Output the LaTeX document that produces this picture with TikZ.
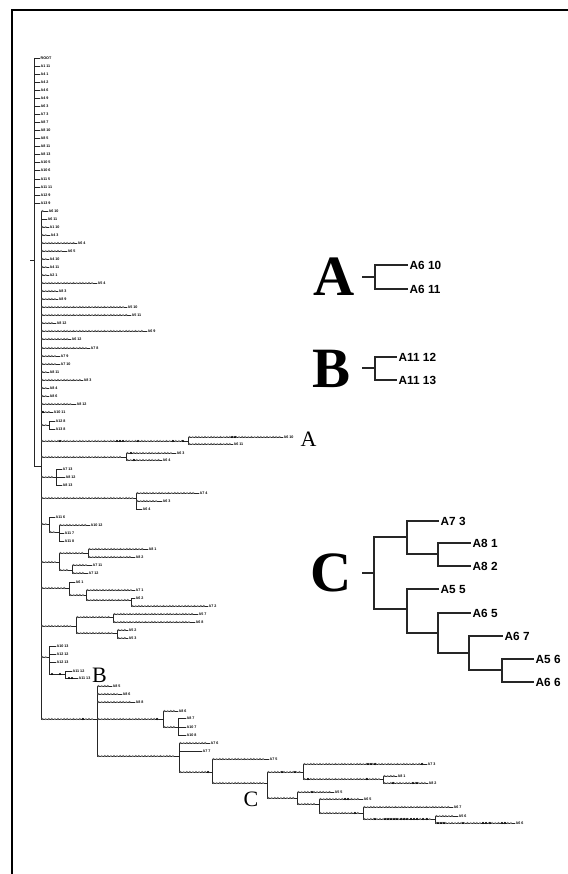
\documentclass[tikz,border=0pt]{standalone}
\usepackage{fontspec}
\setmainfont{Liberation Sans}
\newfontfamily\serifb{Liberation Serif}
\usetikzlibrary{decorations.markings}
\tikzset{
 tr/.style={line width=0.45pt, black!85},
 lf/.style={anchor=west, inner sep=0.4pt, font=\fontsize{3.7}{3.7}\selectfont\bfseries},
 ch/.style={postaction={decorate, decoration={markings, mark=between positions 1.5pt and -3pt step 3.1pt with {\draw[line width=0.28pt, black!70, fill=white] (0,0) circle (0.9pt);}}}},
 ins/.style={line width=1.1pt, black!85, line cap=rect},
 inl/.style={anchor=west, inner xsep=2.5pt, inner ysep=0pt, font=\fontsize{11.8}{12}\selectfont\bfseries},
 big/.style={anchor=base, inner sep=0pt, font=\fontsize{57}{57}\selectfont\serifb\bfseries},
 mid/.style={anchor=base, inner sep=0pt, font=\fontsize{22}{22}\selectfont\serifb},
 frame/.style={line width=2pt, black},
}
\newcommand\Lf[6]{\node[lf] (#1) at (#3,#4) {#5}; \draw[tr,#6] (#2 |- #1.west) -- (#1.west);}
\newcommand\In[7]{\coordinate (#1) at (#3,#6); \draw[tr] (#3,#4) -- (#3,#5); \draw[tr,#7] (#2 |- #1) -- (#1);}
\newcommand\LfI[5]{\node[inl] (#1) at (#3,#4) {#5}; \draw[ins] (#2 |- #1.west) -- (#1.west);}
\newcommand\InI[6]{\coordinate (#1) at (#3,#6); \draw[ins] (#3,#4) -- (#3,#5); \draw[ins] (#2 |- #1) -- (#1);}
\newcommand\fd[2]{\fill[black] (#1,#2) circle (1.05pt);}
\begin{document}
\begin{tikzpicture}[x=1pt,y=-1pt]
\useasboundingbox (0,0) rectangle (567,874);
\fill[white] (0,0) rectangle (567,874);
% frame
\draw[frame] (12,880) -- (12,10) -- (575,10);
% ---------- outer clade
\coordinate (P0) at (30,260);
\In{R0}{P0}{34}{58}{466}{260}{}
\foreach \lab [count=\i] in {ROOT,A1 11,A4 1,A4 2,A4 6,A4 9,A6 3,A7 3,A8 7,A8 10,A8 5,A8 11,A8 13,A10 5,A10 6,A11 5,A11 11,A12 9,A13 9}{
  \pgfmathsetmacro\yy{58+8.05*(\i-1)}
  \Lf{o\i}{R0}{40}{\yy}{\lab}{}
}
% ---------- inner clade
\In{I}{R0}{41}{211}{719}{466}{}
\Lf{i01}{I}{48}{211}{A6 10}{ch}
\Lf{i02}{I}{47}{219}{A6 11}{}
\Lf{i03}{I}{49}{227}{A1 10}{ch}
\Lf{i04}{I}{50}{235}{A4 3}{ch}
\Lf{i05}{I}{77}{243}{A6 4}{ch}
\Lf{i06}{I}{67}{251}{A6 5}{ch}
\Lf{i07}{I}{49}{259}{A4 10}{ch}
\Lf{i08}{I}{49}{267}{A4 11}{ch}
\Lf{i09}{I}{49}{275}{A2 1}{ch}
\Lf{i10}{I}{97}{283}{A5 4}{ch}
\Lf{i11}{I}{58}{291}{A8 3}{ch}
\Lf{i12}{I}{58}{299}{A8 9}{ch}
\Lf{i13}{I}{127}{307}{A5 10}{ch}
\Lf{i14}{I}{131}{315}{A5 11}{ch}
\Lf{i15}{I}{56}{323}{A8 12}{ch}
\Lf{i16}{I}{147}{331}{A6 9}{ch}
\Lf{i17}{I}{71}{339}{A6 12}{ch}
\Lf{i18}{I}{90}{348}{A7 8}{ch}
\Lf{i19}{I}{60}{356}{A7 9}{ch}
\Lf{i20}{I}{60}{364}{A7 10}{ch}
\Lf{i21}{I}{49}{372}{A8 11}{ch}
\Lf{i22}{I}{83}{380}{A8 3}{ch}
\Lf{i23}{I}{49}{388}{A8 4}{ch}
\Lf{i24}{I}{49}{396}{A8 6}{ch}
\Lf{i25}{I}{76}{404}{A8 12}{ch}
\Lf{i26}{I}{53}{412}{A10 11}{ch}
\fd{43}{412}
% A12 8 / A13 8
\In{k1}{I}{49}{421}{429}{425}{ch}
\Lf{k1a}{k1}{55}{421}{A12 8}{}
\Lf{k1b}{k1}{55}{429}{A13 8}{}
% clade A
\In{kA}{I}{188}{437}{444}{441}{ch}
\Lf{kAa}{kA}{283}{437}{A6 10}{ch}
\Lf{kAb}{kA}{233}{444}{A6 11}{ch}
\foreach \xx in {60,117,120,123,138,173,183}{\fd{\xx}{441}}
\fd{232}{437}\fd{235}{437}
\node[mid] (LA) at (308.5,446) {A};
% A6 3 / A6 4
\In{k2}{I}{126}{453}{460}{457}{ch}
\Lf{k2a}{k2}{176}{453}{A6 3}{ch}
\Lf{k2b}{k2}{162}{460}{A6 4}{ch}
\fd{131}{453}\fd{134}{460}
% A7 13 clade
\In{k3}{I}{56}{469}{485}{477}{ch}
\Lf{k3a}{k3}{62}{469}{A7 13}{}
\Lf{k3b}{k3}{65}{477}{A8 12}{}
\Lf{k3c}{k3}{62}{485}{A8 13}{}
% A7 4 clade
\In{k4}{I}{136}{493}{509}{498}{ch}
\Lf{k4a}{k4}{199}{493}{A7 4}{ch}
\Lf{k4b}{k4}{162}{501}{A6 3}{ch}
\Lf{k4c}{k4}{142}{509}{A6 4}{}
% A11 6 clade
\In{k5}{I}{49}{517}{532}{524}{ch}
\Lf{k5a}{k5}{55}{517}{A11 6}{}
\In{k6}{k5}{59}{525}{541}{532}{ch}
\Lf{k6a}{k6}{90}{525}{A10 12}{ch}
\Lf{k6b}{k6}{64}{533}{A11 7}{}
\Lf{k6c}{k6}{64}{541}{A11 8}{}
% A8 1 clade
\In{k7}{I}{59}{553}{570}{562}{ch}
\In{k8}{k7}{88}{549}{557}{553}{ch}
\Lf{k8a}{k8}{148}{549}{A8 1}{ch}
\Lf{k8b}{k8}{135}{557}{A8 2}{ch}
\In{k9}{k7}{72}{565}{573}{570}{ch}
\Lf{k9a}{k9}{92}{565}{A7 11}{ch}
\Lf{k9b}{k9}{88}{573}{A7 12}{ch}
% A6 1 clade
\In{m1}{I}{69}{582}{595}{588}{ch}
\Lf{m1a}{m1}{75}{582}{A6 1}{}
\In{m2}{m1}{86}{590}{600}{595}{ch}
\Lf{m2a}{m2}{135}{590}{A7 1}{ch}
\In{m3}{m2}{131}{598}{606}{600}{ch}
\Lf{m3a}{m3}{135}{598}{A6 2}{}
\Lf{m3b}{m3}{208}{606}{A7 2}{ch}
% A5 7 clade
\In{n1}{I}{76}{617}{633}{626}{ch}
\In{n2}{n1}{113}{614}{622}{617}{ch}
\Lf{n2a}{n2}{198}{614}{A5 7}{ch}
\Lf{n2b}{n2}{195}{622}{A6 8}{ch}
\In{n3}{n1}{117}{630}{638}{633}{ch}
\Lf{n3a}{n3}{128}{630}{A5 2}{ch}
\Lf{n3b}{n3}{128}{638}{A5 3}{ch}
% B clade
\In{b1}{I}{49}{646}{674}{657}{ch}
\Lf{b1a}{b1}{56}{646}{A10 13}{}
\Lf{b1b}{b1}{56}{654}{A12 12}{}
\Lf{b1c}{b1}{56}{662}{A12 13}{}
\In{b2}{b1}{65}{671}{678}{674}{}
\Lf{b2a}{b2}{72}{671}{A11 12}{}
\Lf{b2b}{b2}{78}{678}{A11 13}{}
\fd{52}{674}\fd{60}{674}\fd{69}{678}\fd{72}{678}
\node[mid] (LB) at (99.5,682) {B};
% big bottom clade
\In{g1}{I}{97}{686}{756}{719}{ch}
\fd{83}{719}
\Lf{g1a}{g1}{112}{686}{A8 5}{ch}
\Lf{g1b}{g1}{122}{694}{A8 6}{ch}
\Lf{g1c}{g1}{135}{702}{A8 8}{ch}
\In{g2}{g1}{163}{711}{727}{719}{ch}
\fd{157}{719}
\Lf{g2a}{g2}{178}{711}{A8 6}{ch}
\In{g3}{g2}{178}{718}{735}{727}{ch}
\Lf{g3a}{g3}{186}{718}{A8 7}{}
\Lf{g3b}{g3}{186}{727}{A10 7}{}
\Lf{g3c}{g3}{186}{735}{A10 8}{}
\In{h1}{g1}{179}{743}{772}{756}{ch}
\Lf{h1a}{h1}{210}{743}{A7 6}{ch}
\Lf{h1b}{h1}{202}{751}{A7 7}{}
\In{h2}{h1}{212}{759}{783}{772}{ch}
\fd{208}{772}
\Lf{h2a}{h2}{269}{759}{A7 5}{ch}
\In{h3}{h2}{267}{772}{798}{783}{ch}
\node[mid] (LC) at (251,806) {C};
\In{c1}{h3}{303}{764}{779}{772}{ch}
\fd{282}{772}\fd{295}{772}
\Lf{c1a}{c1}{427}{764}{A7 3}{ch}
\fd{368}{764}\fd{371}{764}\fd{375}{764}\fd{422}{764}
\In{c2}{c1}{383}{776}{783}{779}{ch}
\fd{308}{779}\fd{367}{779}
\Lf{c2a}{c2}{397}{776}{A8 1}{ch}
\Lf{c2b}{c2}{428}{783}{A8 2}{ch}
\fd{393}{783}\fd{413}{783}\fd{417}{783}
\In{c3}{h3}{297}{792}{804}{798}{ch}
\Lf{c3a}{c3}{334}{792}{A5 5}{ch}
\fd{312}{792}
\In{c4}{c3}{319}{799}{813}{804}{ch}
\Lf{c4a}{c4}{363}{799}{A6 5}{ch}
\fd{345}{799}\fd{348}{799}
\In{c5}{c4}{363}{807}{819}{813}{ch}
\fd{355}{813}
\Lf{c5a}{c5}{453}{807}{A6 7}{ch}
\In{c6}{c5}{435}{816}{823}{819}{ch}
\foreach \xx in {375,385,388,391,394,397,401,404,407,411,414,417,423,427}{\fd{\xx}{819}}
\Lf{c6a}{c6}{458}{816}{A5 6}{ch}
\Lf{c6b}{c6}{515}{823}{A6 6}{ch}
\foreach \xx in {438,441,444,463,483,486,490,502,505}{\fd{\xx}{823}}
% ---------- inset A
\node[big] (BA) at (334,295) {A};
\coordinate (xA) at (363,277);
\InI{iA}{xA}{375}{265}{289}{277}
\LfI{iA1}{iA}{407}{265}{A6 10}
\LfI{iA2}{iA}{407}{289}{A6 11}
% ---------- inset B
\node[big] (BB) at (332,387) {B};
\coordinate (xB) at (363,368);
\InI{iB}{xB}{375}{357}{380}{368}
\LfI{iB1}{iB}{396}{357}{A11 12}
\LfI{iB2}{iB}{396}{380}{A11 13}
% ---------- inset C
\node[big] (BC) at (331.5,591) {C};
\coordinate (xC) at (363,573);
\InI{q0}{xC}{374}{537}{609}{573}
\InI{q1}{q0}{407}{521}{554}{537}
\LfI{qA73}{q1}{438}{521}{A7 3}
\InI{q2}{q1}{438}{543}{566}{554}
\LfI{qA81}{q2}{470}{543}{A8 1}
\LfI{qA82}{q2}{470}{566}{A8 2}
\InI{q3}{q0}{407}{589}{633}{609}
\LfI{qA55}{q3}{438}{589}{A5 5}
\InI{q4}{q3}{438}{613}{653}{633}
\LfI{qA65}{q4}{470}{613}{A6 5}
\InI{q5}{q4}{469}{636}{670}{653}
\LfI{qA67}{q5}{502}{636}{A6 7}
\InI{q6}{q5}{502}{659}{682}{670}
\LfI{qA56}{q6}{533}{659}{A5 6}
\LfI{qA66}{q6}{533}{682}{A6 6}
\end{tikzpicture}
\end{document}
